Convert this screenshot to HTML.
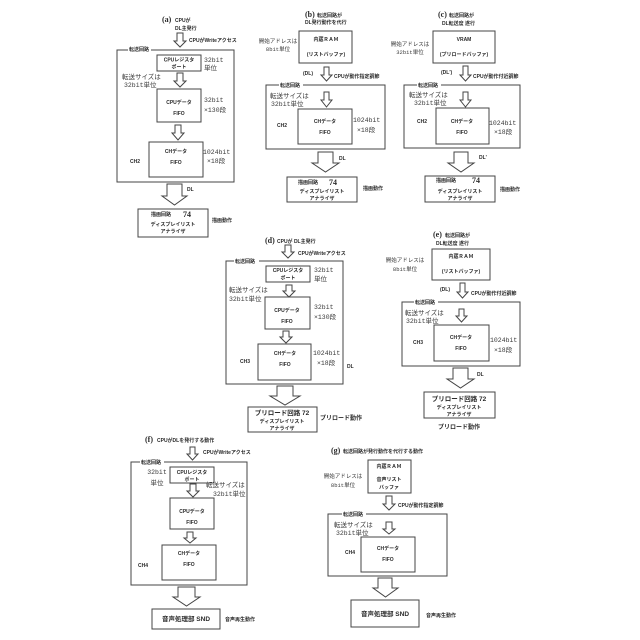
<!DOCTYPE html>
<html lang="ja"><head><meta charset="utf-8"><style>
html,body{margin:0;padding:0;background:#fff}
svg{display:block}
text{font-family:"Liberation Sans","Noto Sans CJK JP",sans-serif;font-size:5px;font-weight:700;fill:#2a2a2a}
.m{text-anchor:middle}
.l{font-family:"Liberation Mono","Noto Sans CJK JP",monospace;font-size:6.5px;font-weight:400;fill:#3a3a3a}
.f{font-family:"Liberation Serif","Noto Serif CJK SC",serif;font-size:8px;font-weight:700}
rect{fill:none;stroke:#444;stroke-width:1}
rect.w{fill:#fff;stroke:none}
rect.h{stroke-width:1}
polygon{fill:#fff;stroke:#444;stroke-width:1}
</style></head><body>
<svg width="640" height="640" viewBox="0 0 640 640" xmlns="http://www.w3.org/2000/svg">
<rect x="0" y="0" width="640" height="640" class="w"/>

<!-- (a) -->
<text x="162" y="22" class="f">(a)</text><text x="175" y="22">CPUが</text>
<text x="175" y="30">DL主発行</text>
<polygon points="177,33 183,33 183,41 186,41 180,47 174,41 177,41"/>
<text x="189" y="42">CPUがWriteアクセス</text>
<rect x="117" y="50" width="117" height="132" class="h"/>
<rect x="128" y="47" width="23" height="5" class="w"/><text x="129" y="51">転送回路</text>
<rect x="157" y="55" width="44" height="16" class="h"/>
<text x="179" y="61.5" class="m">CPUレジスタ</text><text x="179" y="68.5" class="m">ポート</text>
<text x="204" y="62" class="l">32bit</text><text x="204" y="70" class="l">単位</text>
<polygon points="177,73 183,73 183,81 186,81 180,87 174,81 177,81"/>
<text x="122" y="79" class="l">転送サイズは</text><text x="124" y="87" class="l">32bit単位</text>
<rect x="157" y="89" width="44" height="33" class="h"/>
<text x="179" y="104" class="m">CPUデータ</text><text x="179" y="115" class="m">FIFO</text>
<text x="204" y="102" class="l">32bit</text><text x="204" y="112" class="l">×130段</text>
<polygon points="175,125 181,125 181,133 184,133 178,140 172,133 175,133"/>
<rect x="149" y="142" width="54" height="35" class="h"/>
<text x="176" y="153" class="m">CHデータ</text><text x="176" y="164" class="m">FIFO</text>
<text x="130" y="163">CH2</text>
<text x="203" y="154" class="l">1024bit</text><text x="207" y="163" class="l">×18段</text>
<polygon points="167,184 182,184 182,196 187,196 174.500,205 162,196 167,196"/>
<text x="187" y="191">DL</text>
<rect x="138" y="209" width="70" height="28" class="h"/>
<text x="151" y="216">描画回路</text><text x="187" y="217" class="f" text-anchor="middle">74</text>
<text x="173" y="226" class="m">ディスプレイリスト</text><text x="173" y="233" class="m">アナライザ</text>
<text x="212" y="222">描画動作</text>

<!-- (b) -->
<text x="305" y="17" class="f">(b)</text><text x="317" y="17">転送回路が</text>
<text x="305" y="24">DL発行動作を代行</text>
<rect x="299" y="31" width="53" height="32" class="h"/>
<text x="326" y="41" class="m">内蔵ＲＡＭ</text><text x="326" y="56" class="m">(リストバッファ)</text>
<text x="278" y="43" class="m l" style="font-size:5.500px">開始アドレスは</text><text x="278" y="51" class="m l" style="font-size:5.500px">8bit単位</text>
<polygon points="324,67 329,67 329,75 332,75 326.500,81 321,75 324,75"/>
<text x="303" y="75">(DL)</text><text x="334" y="78">CPUが動作指定調節</text>
<rect x="266" y="85" width="119" height="64" class="h"/>
<rect x="279" y="82" width="24" height="6" class="w"/><text x="280" y="87">転送回路</text>
<text x="270" y="98" class="l">転送サイズは</text><text x="271" y="106" class="l">32bit単位</text>
<polygon points="324,92 329,92 329,100 332,100 326.500,107 321,100 324,100"/>
<rect x="298" y="109" width="54" height="35" class="h"/>
<text x="325" y="123" class="m">CHデータ</text><text x="325" y="134" class="m">FIFO</text>
<text x="277" y="127">CH2</text>
<text x="353" y="122" class="l">1024bit</text><text x="357" y="132" class="l">×18段</text>
<polygon points="318,152 333,152 333,163 339,163 325.500,172 312,163 318,163"/>
<text x="339" y="160">DL</text>
<rect x="287" y="177" width="70" height="25" class="h"/>
<text x="298" y="184">描画回路</text><text x="333" y="185" class="f" text-anchor="middle">74</text>
<text x="322" y="193" class="m">ディスプレイリスト</text><text x="322" y="200" class="m">アナライザ</text>
<text x="363" y="190">描画動作</text>

<!-- (c) -->
<text x="438" y="17" class="f">(c)</text><text x="449" y="17">転送回路が</text>
<text x="442" y="25">DL転送度 遂行</text>
<rect x="433" y="31" width="62" height="32" class="h"/>
<text x="464" y="41" class="m">VRAM</text><text x="464" y="56" class="m">(プリロードバッファ)</text>
<text x="410" y="46" class="m l" style="font-size:5.500px">開始アドレスは</text><text x="410" y="54" class="m l" style="font-size:5.500px">32bit単位</text>
<polygon points="463,66 468,66 468,75 471,75 465.500,81 460,75 463,75"/>
<text x="441" y="74">(DL')</text><text x="473" y="78">CPUが動作付近調節</text>
<rect x="404" y="85" width="116" height="63" class="h"/>
<rect x="417" y="82" width="24" height="6" class="w"/><text x="418" y="87">転送回路</text>
<text x="409" y="97" class="l">転送サイズは</text><text x="414" y="105" class="l">32bit単位</text>
<polygon points="463,92 468,92 468,100 471,100 465.500,107 460,100 463,100"/>
<rect x="436" y="108" width="53" height="36" class="h"/>
<text x="462" y="123" class="m">CHデータ</text><text x="462" y="134" class="m">FIFO</text>
<text x="417" y="123">CH2</text>
<text x="489" y="125" class="l">1024bit</text><text x="494" y="134" class="l">×18段</text>
<polygon points="454,152 468,152 468,163 474,163 461,172 448,163 454,163"/>
<text x="479" y="159">DL'</text>
<rect x="425" y="176" width="70" height="26" class="h"/>
<text x="436" y="182">描画回路</text><text x="476" y="183" class="f" text-anchor="middle">74</text>
<text x="460" y="193" class="m">ディスプレイリスト</text><text x="460" y="200" class="m">アナライザ</text>
<text x="500" y="191">描画動作</text>

<!-- (d) -->
<text x="265" y="243" class="f">(d)</text><text x="277" y="243">CPUが DL主発行</text>
<polygon points="285,245 291,245 291,252 294,252 288,258 282,252 285,252"/>
<text x="298" y="255">CPUがWriteアクセス</text>
<rect x="226" y="261" width="117" height="123" class="h"/>
<rect x="234" y="258" width="25" height="6" class="w"/><text x="235" y="263">転送回路</text>
<rect x="266" y="266" width="44" height="16" class="h"/>
<text x="288" y="272" class="m">CPUレジスタ</text><text x="288" y="279.500" class="m">ポート</text>
<text x="314" y="272" class="l">32bit</text><text x="314" y="281" class="l">単位</text>
<polygon points="286,285 292,285 292,291 295,291 289,297 283,291 286,291"/>
<text x="229" y="292" class="l">転送サイズは</text><text x="229" y="301" class="l">32bit単位</text>
<rect x="265" y="297" width="45" height="32" class="h"/>
<text x="287" y="312" class="m">CPUデータ</text><text x="287" y="323" class="m">FIFO</text>
<text x="314" y="309" class="l">32bit</text><text x="314" y="319" class="l">×130段</text>
<polygon points="283,331 289,331 289,337 292,337 286,343 280,337 283,337"/>
<rect x="258" y="344" width="53" height="36" class="h"/>
<text x="285" y="355" class="m">CHデータ</text><text x="285" y="366" class="m">FIFO</text>
<text x="240" y="363">CH3</text>
<text x="313" y="355" class="l">1024bit</text><text x="317" y="365" class="l">×18段</text>
<text x="347" y="368">DL</text>
<polygon points="277,386 293,386 293,396 300,396 285,405 270,396 277,396"/>
<rect x="248" y="407" width="69" height="25" class="h"/>
<text x="282" y="415" class="m" style="font-size:6.500px">プリロード回路 72</text>
<text x="282" y="423" class="m">ディスプレイリスト</text><text x="282" y="430" class="m">アナライザ</text>
<text x="320" y="420" style="font-size:6px">プリロード動作</text>

<!-- (e) -->
<text x="433" y="237" class="f">(e)</text><text x="445" y="237">転送回路が</text>
<text x="436" y="245">DL転送度 遂行</text>
<rect x="432" y="249" width="58" height="31" class="h"/>
<text x="461" y="258" class="m">内蔵ＲＡＭ</text><text x="461" y="273" class="m">(リストバッファ)</text>
<text x="405" y="262" class="m l" style="font-size:5.500px">開始アドレスは</text><text x="405" y="271" class="m l" style="font-size:5.500px">8bit単位</text>
<polygon points="460,283 465,283 465,292 468,292 462.500,298 457,292 460,292"/>
<text x="440" y="291">(DL)</text><text x="471" y="295">CPUが動作付近調節</text>
<rect x="402" y="302" width="118" height="64" class="h"/>
<rect x="414" y="299" width="24" height="6" class="w"/><text x="415" y="304">転送回路</text>
<text x="405" y="315" class="l">転送サイズは</text><text x="406" y="323" class="l">32bit単位</text>
<polygon points="459,309 464,309 464,316 467,316 461.500,322 456,316 459,316"/>
<rect x="434" y="325" width="55" height="36" class="h"/>
<text x="461" y="339" class="m">CHデータ</text><text x="461" y="350" class="m">FIFO</text>
<text x="413" y="344">CH3</text>
<text x="490" y="342" class="l">1024bit</text><text x="494" y="352" class="l">×18段</text>
<polygon points="453,368 468,368 468,379 474,379 460.500,388 447,379 453,379"/>
<text x="477" y="376">DL</text>
<rect x="424" y="392" width="71" height="26" class="h"/>
<text x="459" y="401" class="m" style="font-size:6.500px">プリロード回路 72</text>
<text x="459" y="409" class="m">ディスプレイリスト</text><text x="459" y="416" class="m">アナライザ</text>
<text x="459" y="429" class="m" style="font-size:6px">プリロード動作</text>

<!-- (f) -->
<text x="145" y="442" class="f">(f)</text><text x="157" y="442">CPUがDLを発行する動作</text>
<polygon points="190,447 195,447 195,454 198,454 192.500,460 187,454 190,454"/>
<text x="203" y="454">CPUがWriteアクセス</text>
<rect x="131" y="462" width="116" height="123" class="h"/>
<rect x="140" y="459" width="24" height="6" class="w"/><text x="141" y="464">転送回路</text>
<rect x="170" y="467" width="44" height="16" class="h"/>
<text x="192" y="474" class="m">CPUレジスタ</text><text x="192" y="481" class="m">ポート</text>
<text x="157" y="474" class="m l">32bit</text><text x="157" y="485" class="m l">単位</text>
<polygon points="190,484 196,484 196,491 199,491 193,497 187,491 190,491"/>
<text x="206" y="487" class="l">転送サイズは</text><text x="213" y="496" class="l">32bit単位</text>
<rect x="170" y="498" width="44" height="31" class="h"/>
<text x="192" y="513" class="m">CPUデータ</text><text x="192" y="524" class="m">FIFO</text>
<polygon points="187,532 193,532 193,538 196,538 190,543 184,538 187,538"/>
<rect x="162" y="545" width="54" height="35" class="h"/>
<text x="189" y="555" class="m">CHデータ</text><text x="189" y="566" class="m">FIFO</text>
<text x="138" y="567">CH4</text>
<polygon points="178,587 195,587 195,597 200,597 186.500,606 173,597 178,597"/>
<rect x="152" y="609" width="68" height="20" class="h"/>
<text x="186" y="621" class="m" style="font-size:6.500px">音声処理部 SND</text>
<text x="225" y="621">音声再生動作</text>

<!-- (g) -->
<text x="331" y="453" class="f">(g)</text><text x="343" y="453">転送回路が発行動作を代行する動作</text>
<rect x="368" y="460" width="43" height="33" class="h"/>
<text x="389" y="468" class="m">内蔵ＲＡＭ</text><text x="389" y="481" class="m">音声リスト</text><text x="389" y="489" class="m">バッファ</text>
<text x="343" y="478" class="m l" style="font-size:5.500px">開始アドレスは</text><text x="343" y="487" class="m l" style="font-size:5.500px">8bit単位</text>
<polygon points="386,496 392,496 392,504 395,504 389,510 383,504 386,504"/>
<text x="398" y="507">CPUが動作指定調節</text>
<rect x="328" y="514" width="119" height="62" class="h"/>
<rect x="342" y="511" width="24" height="6" class="w"/><text x="343" y="516">転送回路</text>
<text x="334" y="527" class="l">転送サイズは</text><text x="336" y="535" class="l">32bit単位</text>
<polygon points="386,522 392,522 392,529 395,529 389,534 383,529 386,529"/>
<rect x="361" y="537" width="54" height="35" class="h"/>
<text x="388" y="550" class="m">CHデータ</text><text x="388" y="561" class="m">FIFO</text>
<text x="345" y="554">CH4</text>
<polygon points="378,578 392,578 392,588 398,588 385.500,597 373,588 378,588"/>
<rect x="351" y="600" width="68" height="27" class="h"/>
<text x="385" y="616" class="m" style="font-size:6.500px">音声処理部 SND</text>
<text x="426" y="617">音声再生動作</text>
</svg>
</body></html>
